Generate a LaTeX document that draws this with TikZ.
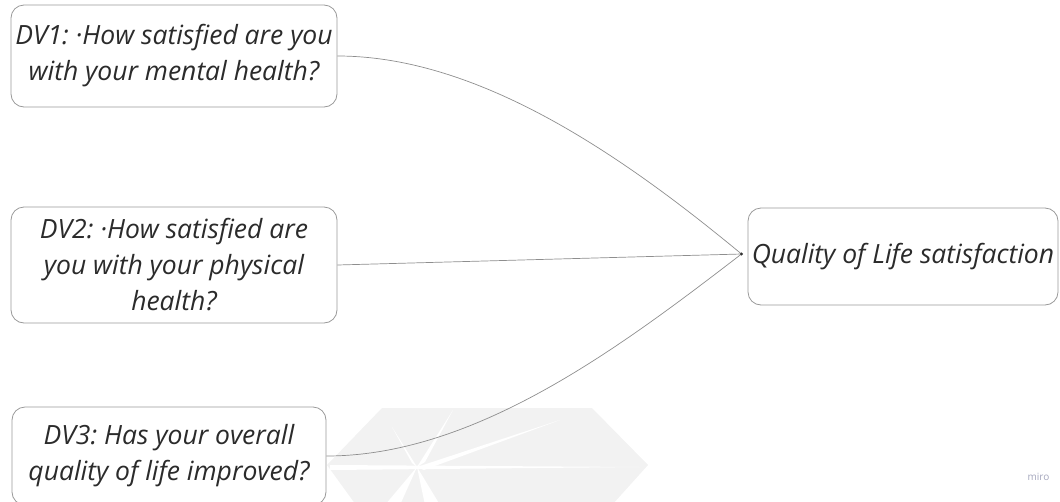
\documentclass[tikz,border=0pt]{standalone}
\usepackage{fontspec}
\setmainfont{Open Sans}
\frenchspacing
\usetikzlibrary{positioning}
\definecolor{txt}{HTML}{2B2B2B}
\definecolor{edge}{HTML}{999999}
\definecolor{conn}{HTML}{8E8E8E}
\definecolor{wm}{HTML}{F2F2F2}
\definecolor{mirogray}{HTML}{A4A6BC}
\tikzset{
  qbox/.style={draw=edge, line width=0.8pt, rounded corners=13pt, align=center,
    text=txt, font=\fontsize{26.5}{36}\selectfont\itshape, inner sep=0pt},
  link/.style={draw=conn, line width=0.7pt},
}
\begin{document}
\begin{tikzpicture}[x=1pt,y=-1pt]
\useasboundingbox (0,0) rectangle (1060,501);
\clip (0,0) rectangle (1060,501);
% faint background watermark
\fill[wm] (382,408) -- (592,408) -- (648,465) -- (612,505) -- (356,505) -- (327,465) -- cycle;
\fill[white] (417,467) -- (453,410) -- (425,462) -- cycle;
\fill[white] (417,467) -- (392,427) -- (412,463) -- cycle;
\fill[white] (417,467) -- (560,420) -- (424,470) -- cycle;
\fill[white] (330,465) -- (640,467) -- (330,470) -- cycle;
\fill[white] (417,467) -- (440,505) -- (425,505) -- cycle;
\fill[white] (417,467) -- (385,505) -- (400,505) -- cycle;
% boxes
\node[qbox, minimum width=326pt, minimum height=102pt] (dv1) at (174,56)
  {DV1: \textperiodcentered How satisfied are you\\with your mental health?};
\node[qbox, minimum width=326pt, minimum height=116pt] (dv2) at (174,265)
  {DV2: \textperiodcentered How satisfied are\\you with your physical\\health?};
\node[qbox, minimum width=314pt, minimum height=98pt] (dv3) at (169,456)
  {DV3: Has your overall\\quality of life improved?};
\node[qbox, minimum width=310pt, minimum height=97pt] (qol) at (903,256.5)
  {Quality of Life satisfaction};
\coordinate (hub) at (741.5,254);
% connectors
\draw[link] (dv1.east) .. controls +(143,0) and +(-116,-96) .. (hub);
\draw[link] (dv2.east) -- (hub);
\draw[link] (dv3.east) .. controls +(150,0) and +(-119,91.5) .. (hub);
\fill[black!80] (hub) circle (1.7pt);
% logo text
\node[text=mirogray, font=\fontsize{10}{12}\selectfont, inner sep=0pt] (miro) at (1038.5,477) {miro};
\end{tikzpicture}
\end{document}
